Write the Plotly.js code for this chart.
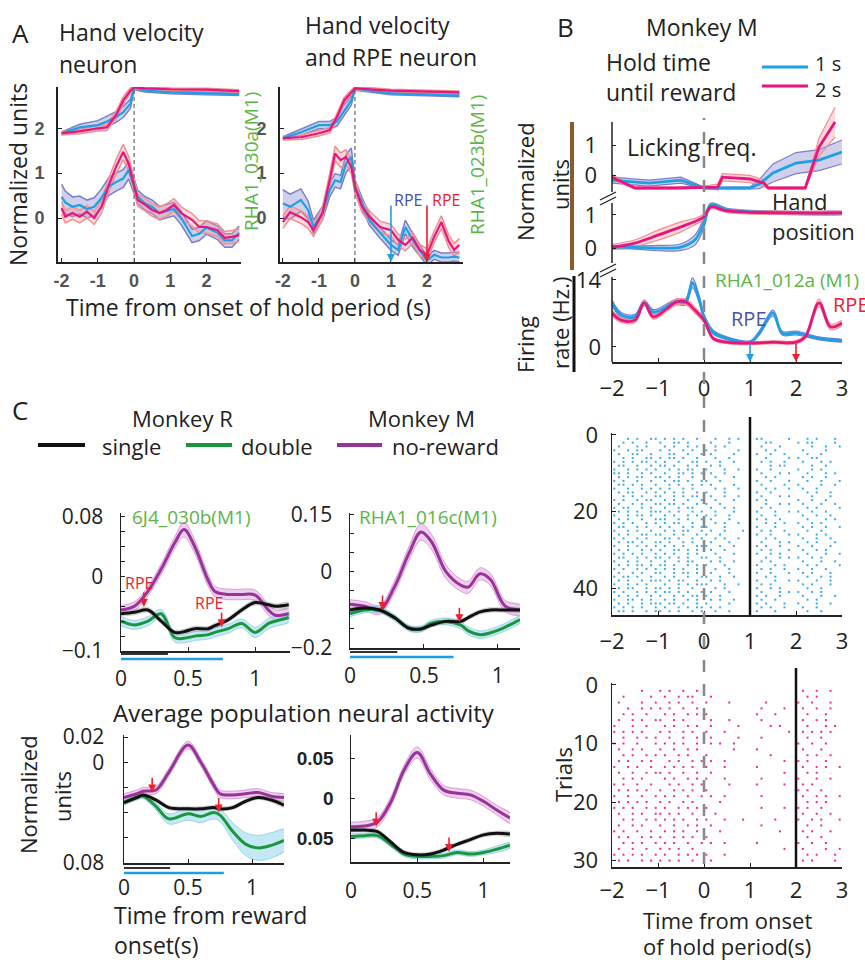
<!DOCTYPE html>
<html><head><meta charset="utf-8">
<script src="https://cdn.plot.ly/plotly-3.0.1.min.js"></script>
<style>html,body{margin:0;padding:0;background:#fff}#chart{width:865px;height:960px}</style>
</head><body><div id="chart"></div>
<script>
// ================= DATA =================
// Panel A left (hand velocity neuron)
const tA1hand=[-2,-1.5,-1,-0.75,-0.5,-0.3,-0.1,0,0.3,1,2,2.9];
const a1HandPink=[1.89,1.93,2.0,2.02,2.29,2.62,2.84,2.91,2.89,2.87,2.86,2.83];
const a1HandPinkSem=[0.04,0.05,0.06,0.07,0.08,0.08,0.06,0.04,0.03,0.03,0.03,0.03];
const a1HandBlue=[1.89,2.02,2.07,2.15,2.25,2.36,2.55,2.91,2.84,2.8,2.78,2.76];
const a1HandBlueSem=[0.03,0.07,0.1,0.12,0.12,0.12,0.1,0.05,0.03,0.03,0.03,0.03];
const tA1vel=[-2,-1.9,-1.7,-1.5,-1.3,-1.1,-0.9,-0.7,-0.5,-0.3,-0.15,0,0.1,0.3,0.5,0.7,0.9,1.1,1.3,1.6,1.8,2.0,2.3,2.5,2.7,2.9];
const a1VelPink=[0.22,0.03,0.11,0.03,0.14,0.0,0.25,0.73,1.14,1.47,1.21,0.7,0.4,0.3,0.18,0.11,0.18,0.29,0.11,-0.04,-0.2,-0.2,-0.27,-0.44,-0.42,-0.38];
const a1VelPinkSem=[0.14,0.14,0.14,0.14,0.14,0.14,0.14,0.15,0.16,0.17,0.16,0.15,0.14,0.14,0.14,0.14,0.14,0.14,0.14,0.14,0.14,0.14,0.14,0.14,0.14,0.14];
const a1VelBlue=[0.47,0.35,0.25,0.29,0.2,0.25,0.45,0.7,0.8,0.88,1.07,0.7,0.47,0.33,0.25,0.11,0.15,0.2,0.0,-0.4,-0.35,-0.21,-0.33,-0.5,-0.5,-0.33];
const a1VelBlueSem=[0.28,0.25,0.22,0.2,0.2,0.2,0.2,0.2,0.2,0.2,0.2,0.18,0.15,0.15,0.15,0.15,0.15,0.15,0.15,0.15,0.15,0.15,0.15,0.15,0.15,0.15];
// Panel A right (hand velocity and RPE neuron)
const tA2hand=[-2,-1.5,-1,-0.7,-0.5,-0.3,-0.1,0,1,2.9];
const a2HandPink=[1.78,1.8,1.89,1.96,2.25,2.62,2.8,2.89,2.84,2.8];
const a2HandPinkSem=[0.04,0.05,0.06,0.06,0.07,0.07,0.05,0.04,0.03,0.03];
const a2HandBlue=[1.78,1.91,2.07,2.07,2.15,2.4,2.62,2.89,2.78,2.73];
const a2HandBlueSem=[0.03,0.07,0.08,0.08,0.1,0.12,0.1,0.04,0.03,0.03];
const tA2vel=[-2,-1.8,-1.5,-1.3,-1.15,-0.9,-0.7,-0.55,-0.4,-0.25,-0.1,0,0.2,0.4,0.7,1.0,1.2,1.4,1.6,1.8,2.0,2.2,2.4,2.6,2.75,2.9];
const a2VelPink=[-0.09,0.13,0.02,-0.09,-0.27,0.11,0.84,1.44,1.29,1.36,1.14,0.7,0.25,0.03,-0.2,-0.27,-0.49,-0.6,-0.44,-0.71,-0.82,-0.42,-0.09,-0.51,-0.71,-0.6];
const a2VelPinkSem=[0.14,0.14,0.14,0.14,0.14,0.14,0.15,0.16,0.16,0.16,0.15,0.14,0.13,0.13,0.13,0.13,0.13,0.13,0.13,0.13,0.13,0.13,0.14,0.14,0.14,0.14];
const a2VelBlue=[0.33,0.25,0.4,0.18,-0.2,0.11,0.62,0.84,0.8,1.21,1.36,0.7,0.33,-0.04,-0.33,-0.6,-0.71,-0.2,-0.49,-0.71,-0.95,-0.82,-0.88,-0.88,-0.86,-0.88];
const a2VelBlueSem=[0.3,0.28,0.25,0.2,0.15,0.15,0.15,0.15,0.15,0.2,0.2,0.15,0.12,0.12,0.12,0.12,0.12,0.15,0.15,0.12,0.1,0.1,0.1,0.1,0.1,0.1];
// Panel B: licking, hand position, firing rate (1 s blue, 2 s pink)
const tLickBlue=[-2,-1.2,-0.5,0,1.0,1.2,1.5,2.0,2.5,3];
const lickBlue=[-0.17,-0.27,-0.17,-0.43,-0.43,-0.3,0.07,0.4,0.5,0.77];
const lickBlueSem=[0.1,0.1,0.1,0.03,0.03,0.15,0.3,0.35,0.35,0.4];
const tLickPink=[-2,-1.5,-0.6,0,0.3,0.4,1.0,1.3,1.4,2.2,2.5,2.85];
const lickPink=[-0.07,-0.43,-0.43,-0.4,-0.4,-0.07,-0.13,-0.27,-0.43,-0.43,0.93,1.77];
const lickPinkSem=[0.08,0.03,0.03,0.03,0.1,0.12,0.12,0.1,0.03,0.03,0.3,0.5];
const tHandB=[-2,-1.5,-1,-0.5,-0.2,0,0.15,0.5,2,3];
const handBlue=[0.03,0.02,0.0,0.03,0.24,0.76,1.3,1.15,1.06,1.06];
const handBlueSem=[0.05,0.05,0.08,0.1,0.15,0.15,0.06,0.05,0.05,0.05];
const handPink=[0.03,0.15,0.39,0.64,0.8,0.94,1.24,1.12,1.06,1.06];
const handPinkSem=[0.08,0.1,0.15,0.15,0.1,0.08,0.06,0.05,0.05,0.05];
const tFireBlue=[-2,-1.8,-1.5,-1.3,-1.1,-0.6,-0.4,-0.25,-0.1,0,0.2,0.5,1.0,1.2,1.5,1.7,2.0,2.5,3];
const fireBlue=[9.2,6.7,6.3,9.2,7.3,9.4,9.4,13.4,9.8,6.3,3.1,1.8,1.0,2.9,7.1,2.9,2.9,1.8,1.3];
const fireBlueSem=[0.6,0.5,0.5,0.6,0.5,0.6,0.6,1.0,0.7,0.5,0.4,0.3,0.3,0.4,0.6,0.4,0.4,0.3,0.3];
const tFirePink=[-2,-1.8,-1.5,-1.3,-1.1,-0.6,-0.4,-0.2,0,0.2,0.5,1.0,1.5,2.0,2.2,2.5,2.75,3];
const firePink=[7.1,5.6,5.6,9.2,6.3,9.4,9.4,7.7,5.6,1.8,1.0,0.8,1.0,1.0,2.1,9.2,4.2,5.0];
const firePinkSem=[0.6,0.5,0.5,0.6,0.5,0.6,0.6,0.6,0.5,0.3,0.3,0.3,0.3,0.3,0.4,0.8,0.6,0.6];
const holdTimes=[1,2];
// Raster spike trains, 0.1 s bins from -2 to 3 s ('|' = spike)
const rasterBlue=[
"...|.|..|| .|.|.|..|. ..|..|.|.. .||.....|. ..|.|...|.",
"..|.|..|.. |..||.|... .|...|.... ...||..... |.||....|.",
".|...|.|.. .|.|..|.|. ..|.|..... ..|...|... ...|..|..|",
"|..|.||... |.|..|.|.. |.|....|.. ...|.|.... .|....|...",
".|..||..|. ..||..|..| .|....|... .|..|..|.. ..|..|....",
"..|.|..||. |.||.|..|. ..|..|.... ...|....|. |..||.....",
"|.|.|.||.| .|..|..||. |..|..|... ..|.|..|.. .|...|.|..",
".||..|..|. ||.|..|.|. .|.|...... ....|.||.. ...|..|...",
"|..|.|.|.| ..|.|.||.. |...|..|.. .|..|..... |..|.|....",
"||.|..|.|. .|..||.|.| .|..|..... ..|...|.|. ..|...|.|.",
".|.|.||..| |.|.|..|.. ..|...|... ...|.|.... .|.|..|...",
"|.|..|..|. .|.||.|..| |..|...... .|..|...|. ..|..|...|",
".||.|.|..| ..|.|..|.| .|....|... ..|....|.. |....|..|.",
"|..|..|.|. |.|..|.|.. ..|.|..|.. ...|.|..|. .|..|.....",
".|.||..|.| .|.|.|..|. |...|..... .|..|..... ..|.|..|..",
"..|.|.|..| |..|.|.||. .|..|..|.. ..|...|.|. ...|...|..",
"|.|..|.||. .|.|..|..| ..|...|... .|.|...... |..|..|...",
".|..|.|..| |.||.|..|. |..|...... ...|..|.|. .|...|..|.",
"|.||..|.|. .|..|.||.. .|..|.|... ..|.|..... ..|.|....|",
".|.|.|..|| |.|.|..|.| ..|...|... .|...|..|. |..|..|...",
"|..|.||.|. .|.|..|.|. |.|..|.... ..|..|.... .|..|..|..",
".|.|..|..| ||..|.|..| .|...|.... .|.|..|... ..|...|.|.",
"|.|.|..|.| .|.||..|.. ..|.|..|.. ...|.|.|.. |..|.|....",
".||..|.|.. |.|..|.|.| |...|..... .|...|.... .|.|..|..|",
"|..|.|..|. .|.|.||..| .|..|...|. ..|.|..|.. ..|..|....",
".|.|..||.| |..|.|..|. |..|...... .|..|...|. |...|.|...",
"|.|..|.|.. .||.|..|.| ..|.|..|.. ...|.|.... .|..|..|..",
".|.||.|..| |.|..|.|.. .|...|.... ..|...|.|. ..|.|...|.",
"|..|.|.|.| .|.|.|..|| |..|..|... .|.|..|... |..|...|..",
".|.|..|.|. |..||.|.|. .|..|..... ..|.|...|. .|..|.|...",
"|.|.|.|..| .|.|..|.|. ..|...|... .|..|.|... ..|...|..|",
".||..|.|.| |.|.|.|..| |..|...... ...|..|.|. |..|.|....",
"|..|.|..|. .|..|.||.. .|.|..|... ..|.|..... .|...|..|.",
".|.|.||.|. ||.|..|.|. |...|..... .|...|.|.. ..|.|....|",
"|.|..|.|.| .|.|.|..|. ..|..|.... ..|.|..|.. |..|..|...",
".|..|.|..| |..|.||.|. .|...|.... .|..|...|. .|.|...|..",
"|.||.|..|. .|.|..|..| |..|..|... ...|.|.... ..|..|.|..",
".|.|..|.|| |.|.||..|. .|.|...... .|...|..|. |...|..|..",
"|..|.|.|.. .|..|.|.|| |...|..|.. ..|.|..... .|.|...|..",
".|.||..|.| |.|.|..|.. ..|.|..... .|..|.|... ..|..|....",
"|.|..|.|.| .||.|.|..| .|...|.... ..|...|.|. |..|.|....",
".|.|.|..|. |..|.|.||. |..|...... .|.|..|... .|...|..|.",
"|..||.|.|. .|.|..|.|. .|.|..|... ..|..|.... ..|.|.....",
".|.|..|.|| |.||.|..|. |....|.... .|.|...|.. |...|..|..",
"|.|.|.|..| .|..|.|.|| .|.|...... ..|.|..|.. .|..|.....",
".||.|..|.| |.|.|..|.| ..|..|.... .|...|.... ..|..|...."];
const rasterPink=[
"......|... |.|..|..|. .......... .......... .|..|..|..",
"..|.....|. .|..|.||.. .|........ .......... ..|.|.....",
".|....|..| ..|.|..|.. |....|.... ...|...... |..|...|..",
"...|..|.|. |.|..|..|. .......... ..|....|.. .|..|..|..",
"..|.|..|.. .|.|..|.|. |......... .|...|.... ..|...|...",
".|..|.|..| |..|.|.... .|...|.... ..|....... .|..|.|...",
"|...|..|.. .|.|..|.|. .|.....|.. ....|.|... ..|...|.|.",
"|.|.|.|... |.|..|.|.. |...|..... ........|. .|.|.|.|..",
"..|..|.|.| ..|..|..|. .|.....|.. ..|....... ..|..|....",
"|.|..|...| .|.|.|..|. .|.|..|... .......... |..|..|...",
".|..|.|... |..|..|.|. ......|... .|........ .|...|....",
"..|.|..|.| .|..|.|... |......... ....|..... ..|.|..|..",
".|.|..|.|. ..|.|..|.| .|..|..... .......|.. |.|...|...",
"|..|.|..|. .|.|.|.|.. |...|..... .|........ .|..|.|..|",
".|..|..|.| |.|..|..|. .|........ .......|.. ..|.|.....",
"..|.|.|... .|.|..|.|. |...|..... ..|....... |...|..|..",
"|.|..|..|. ..|.|..|.| .....|.... .|.....|.. .|.|......",
".|.|.|.|.. |..|.|.|.. |......... .......... |.|..|....",
"|..|..|..| .|.|..|..| .|..|..... ..|....... .|..|.|..|",
".|.|.|.|.. |.|..|.|.. ...|...... .......... ..|.|.|...",
"|.|.|..|.| .|..|.|.|. |......... ..|....|.. |.|..|....",
".|..|.|..| |.|.|..|.. ..|....... .......... .|..|..|..",
"..|.|..|.| .|.|.|..|. |...|...|. .....|.... |..|.|...|",
".|..|.|... |..|..|.|. .|........ ..|....... ..|..|....",
"|.|..|..|. .|.|.|..|. ...|...... ......|... .|.|...|..",
".|.|..|.|. |..|.|.|.. |......... .......... ..|..|....",
"..|.|.|..| .|.|..|..| .|..|..... .|........ |..|..|...",
".|..|..|.. |.|.|..|.. .......... .......|.. .|....|..|",
"|.|.|.|..| .|..|.|.|. |...|..... .......... ..|.|...|.",
".|.|..|.|. |.|.|..|.. .|........ .......... .|.|....|."];
// Panel C: time from reward onset
const tC1=[0,0.1,0.2,0.3,0.4,0.47,0.55,0.65,0.7,0.8,0.9,1.0,1.1,1.15,1.25];
const c1None=[-0.045,-0.04,-0.02,0.01,0.045,0.063,0.04,-0.005,-0.02,-0.024,-0.024,-0.025,-0.045,-0.052,-0.05];
const c1NoneSem=[0.006,0.006,0.006,0.007,0.008,0.01,0.009,0.008,0.007,0.007,0.007,0.007,0.007,0.007,0.007];
const c1Single=[-0.05,-0.048,-0.045,-0.06,-0.075,-0.074,-0.07,-0.07,-0.066,-0.058,-0.045,-0.035,-0.038,-0.04,-0.038];
const c1SingleSem=[0.004,0.004,0.004,0.004,0.004,0.004,0.004,0.004,0.004,0.004,0.004,0.004,0.004,0.004,0.004];
const c1Double=[-0.06,-0.065,-0.06,-0.05,-0.082,-0.083,-0.08,-0.078,-0.075,-0.07,-0.063,-0.075,-0.063,-0.06,-0.055];
const c1DoubleSem=[0.006,0.006,0.006,0.006,0.006,0.006,0.006,0.006,0.006,0.006,0.006,0.007,0.007,0.007,0.007];
const tC2=[0,0.1,0.2,0.3,0.4,0.48,0.55,0.65,0.75,0.8,0.88,0.95,1.05,1.15];
const c2None=[-0.085,-0.09,-0.1,-0.04,0.05,0.105,0.08,0.0,-0.035,-0.04,-0.005,-0.02,-0.09,-0.1];
const c2NoneSem=[0.012,0.012,0.012,0.015,0.018,0.022,0.02,0.018,0.016,0.016,0.016,0.016,0.015,0.015];
const c2Single=[-0.1,-0.095,-0.1,-0.12,-0.148,-0.15,-0.14,-0.13,-0.13,-0.12,-0.105,-0.1,-0.1,-0.1];
const c2SingleSem=[0.007,0.007,0.007,0.007,0.007,0.007,0.007,0.007,0.007,0.007,0.007,0.007,0.007,0.007];
const c2Double=[-0.11,-0.1,-0.1,-0.12,-0.148,-0.15,-0.135,-0.13,-0.14,-0.155,-0.165,-0.16,-0.145,-0.125];
const c2DoubleSem=[0.008,0.008,0.008,0.008,0.008,0.008,0.008,0.009,0.01,0.01,0.01,0.01,0.01,0.01];
const tC3=[0,0.1,0.15,0.25,0.35,0.5,0.6,0.7,0.75,0.85,0.95,1.05,1.15,1.25];
const c3None=[-0.028,-0.025,-0.023,-0.022,-0.008,0.0136,0.0,-0.018,-0.025,-0.026,-0.025,-0.024,-0.027,-0.028];
const c3NoneSem=[0.003,0.003,0.003,0.003,0.003,0.003,0.003,0.003,0.003,0.003,0.003,0.003,0.003,0.003];
const c3Single=[-0.032,-0.028,-0.026,-0.03,-0.036,-0.037,-0.037,-0.036,-0.037,-0.036,-0.031,-0.028,-0.03,-0.034];
const c3SingleSem=[0.002,0.002,0.002,0.002,0.002,0.002,0.002,0.002,0.002,0.002,0.002,0.002,0.002,0.002];
const c3Double=[-0.032,-0.028,-0.027,-0.035,-0.045,-0.041,-0.043,-0.04,-0.042,-0.055,-0.065,-0.068,-0.066,-0.062];
const c3DoubleSem=[0.002,0.002,0.002,0.003,0.004,0.005,0.005,0.005,0.005,0.007,0.009,0.01,0.01,0.009];
const tC4=[0,0.1,0.2,0.3,0.4,0.5,0.6,0.7,0.8,0.9,1.0,1.1,1.2];
const c4None=[-0.036,-0.035,-0.03,-0.005,0.035,0.057,0.03,0.01,0.006,0.004,-0.004,-0.015,-0.025];
const c4NoneSem=[0.006,0.006,0.006,0.006,0.006,0.007,0.007,0.006,0.006,0.006,0.006,0.006,0.007];
const c4Single=[-0.04,-0.04,-0.042,-0.055,-0.068,-0.071,-0.07,-0.065,-0.058,-0.052,-0.046,-0.044,-0.045];
const c4SingleSem=[0.003,0.003,0.003,0.003,0.003,0.003,0.003,0.003,0.003,0.003,0.003,0.003,0.003];
const c4Double=[-0.048,-0.047,-0.047,-0.058,-0.07,-0.073,-0.073,-0.072,-0.068,-0.07,-0.068,-0.064,-0.059];
const c4DoubleSem=[0.003,0.003,0.003,0.003,0.003,0.003,0.003,0.003,0.003,0.003,0.003,0.004,0.004];
const rpeC=[[0.17,-0.041,0.75,-0.068],[0.22,-0.1,0.74,-0.132],[0.22,-0.024,0.74,-0.04],[0.19,-0.036,0.74,-0.0675]];
const cBarSingle=[0.35,0.32,0.36];
const cBarDouble=[0.76,0.7,0.78];

// ================= DRAW =================
const W=865,H=960;
const PX=x=>x/W, PY=y=>1-y/H;
const FONT='Open Sans, sans-serif';
const BLUE='#1ea0e6', PINK='#e8157e', SLATE='#7b7fc8', SALMON='#f29090';
const PURPLE='#993399', GREEN='#1a9641', BLACK='#111111';
const traces=[];
function addBand(xs,m,s,xa,ya,fill,edge,ew,shape){
  const up=m.map((v,i)=>v+s[i]), lo=m.map((v,i)=>v-s[i]);
  const sh=shape||'linear';
  traces.push({type:'scatter',mode:'lines',x:xs.concat(xs.slice().reverse()),y:up.concat(lo.slice().reverse()),fill:'toself',fillcolor:fill,line:{width:0,shape:sh},xaxis:xa,yaxis:ya,hoverinfo:'skip'});
  if(edge){
    traces.push({type:'scatter',mode:'lines',x:xs,y:up,line:{color:edge,width:ew,shape:sh},xaxis:xa,yaxis:ya,hoverinfo:'skip'});
    traces.push({type:'scatter',mode:'lines',x:xs,y:lo,line:{color:edge,width:ew,shape:sh},xaxis:xa,yaxis:ya,hoverinfo:'skip'});
  }
}
function addLine(xs,m,xa,ya,color,w,shape){
  traces.push({type:'scatter',mode:'lines',x:xs,y:m,line:{color:color,width:w,shape:shape||'linear'},xaxis:xa,yaxis:ya,hoverinfo:'skip'});
}
// Panel A
[['x','y',tA1hand,a1HandBlue,a1HandBlueSem,a1HandPink,a1HandPinkSem],
 ['x','y',tA1vel,a1VelBlue,a1VelBlueSem,a1VelPink,a1VelPinkSem],
 ['x2','y2',tA2hand,a2HandBlue,a2HandBlueSem,a2HandPink,a2HandPinkSem],
 ['x2','y2',tA2vel,a2VelBlue,a2VelBlueSem,a2VelPink,a2VelPinkSem]].forEach(g=>{
  addBand(g[2],g[3],g[4],g[0],g[1],'rgba(120,120,200,0.35)',SLATE,1.5);
  addBand(g[2],g[5],g[6],g[0],g[1],'rgba(245,150,150,0.35)',SALMON,1.5);
  addLine(g[2],g[3],g[0],g[1],BLUE,2.2);
  addLine(g[2],g[5],g[0],g[1],PINK,2.2);
});
// Panel B curves
const bGroups=[['y3',tLickBlue,lickBlue,lickBlueSem,tLickPink,lickPink,lickPinkSem,'linear'],
 ['y4',tHandB,handBlue,handBlueSem,tHandB,handPink,handPinkSem,'spline'],
 ['y5',tFireBlue,fireBlue,fireBlueSem,tFirePink,firePink,firePinkSem,'spline']];
bGroups.forEach(g=>{
  addBand(g[1],g[2],g[3],'x3',g[0],'rgba(120,120,200,0.35)',SLATE,1.2,g[7]);
  addBand(g[4],g[5],g[6],'x3',g[0],'rgba(245,150,150,0.35)',SALMON,1.2,g[7]);
  addLine(g[1],g[2],'x3',g[0],BLUE,2.8,g[7]);
  addLine(g[4],g[5],'x3',g[0],PINK,2.8,g[7]);
});
// Rasters
function rasterTrace(rows,xa,ya,color){
  const xs=[],ys=[];
  rows.forEach((r,k)=>{
    const s=r.replace(/ /g,'');
    for(let i=0;i<s.length;i++){ if(s[i]==='|'){ xs.push(-2+0.1*i+0.05); ys.push(k+1); } }
  });
  traces.push({type:'scatter',mode:'markers',x:xs,y:ys,xaxis:xa,yaxis:ya,marker:{symbol:'square',size:2,color:color,line:{width:0}},hoverinfo:'skip'});
}
rasterTrace(rasterBlue,'x4','y6','#3aaaea');
rasterTrace(rasterPink,'x5','y7','#ec2a9c');
// Panel C
[['x6','y8',tC1,c1None,c1NoneSem,c1Single,c1SingleSem,c1Double,c1DoubleSem],
 ['x7','y9',tC2,c2None,c2NoneSem,c2Single,c2SingleSem,c2Double,c2DoubleSem],
 ['x8','y10',tC3,c3None,c3NoneSem,c3Single,c3SingleSem,c3Double,c3DoubleSem],
 ['x9','y11',tC4,c4None,c4NoneSem,c4Single,c4SingleSem,c4Double,c4DoubleSem]].forEach(g=>{
  addBand(g[2],g[3],g[4],g[0],g[1],'rgba(215,150,215,0.45)','rgba(205,130,205,0.7)',1,'spline');
  addBand(g[2],g[7],g[8],g[0],g[1],'rgba(150,215,235,0.55)','rgba(140,205,230,0.8)',1,'spline');
  addBand(g[2],g[5],g[6],g[0],g[1],'rgba(150,150,150,0.45)',null,0,'spline');
  addLine(g[2],g[3],g[0],g[1],PURPLE,3,'spline');
  addLine(g[2],g[7],g[0],g[1],GREEN,3,'spline');
  addLine(g[2],g[5],g[0],g[1],BLACK,3,'spline');
});

// ---------- axes ----------
function ax(domPx,isX,range,extra){
  const dom=isX?[PX(domPx[0]),PX(domPx[1])]:[PY(domPx[0]),PY(domPx[1])];
  return Object.assign({domain:dom,range:range,showgrid:false,zeroline:false,showline:true,linecolor:'#222',linewidth:1.5,
    ticks:'inside',ticklen:4,tickcolor:'#222',fixedrange:true,tickfont:{family:FONT,size:21,color:'#222'},ticklabelstandoff:6},extra||{});
}
const fA={family:'Liberation Sans, Arial, sans-serif',size:18,color:'#555',weight:'bold'};
const tB={family:FONT,size:22,color:'#222'};
const layout={width:W,height:H,margin:{l:0,r:0,t:0,b:0},paper_bgcolor:'#fff',plot_bgcolor:'rgba(0,0,0,0)',showlegend:false,
  font:{family:FONT,color:'#222'},
  xaxis:ax([58,241],true,[-2.1,2.95],{anchor:'y',tickvals:[-2,-1,0,1,2],ticktext:['-2','-1','0','1','2'],tickfont:fA,linewidth:2,ticklabelstandoff:1}),
  yaxis:ax([262,87],false,[-0.98,2.92],{anchor:'x',tickvals:[0,1,2],tickfont:fA,linewidth:2,ticklabelstandoff:8}),
  xaxis2:ax([280,463],true,[-2.08,3.0],{anchor:'y2',tickvals:[-2,-1,0,1,2],ticktext:['-2','-1','0','1','2'],tickfont:fA,linewidth:2,ticklabelstandoff:1}),
  yaxis2:ax([262,87],false,[-0.98,2.92],{anchor:'x2',tickvals:[0,1,2],tickfont:fA,linewidth:2,ticklabelstandoff:8}),
  xaxis3:ax([612,842],true,[-2,3],{anchor:'y5',tickvals:[-2,-1,0,1,2,3],tickfont:tB}),
  yaxis3:ax([194,97],false,[-0.63,2.6],{anchor:'x3',tickvals:[0,1],tickfont:tB,showline:false,ticklabelstandoff:14}),
  yaxis4:ax([262,200],false,[-0.42,1.45],{anchor:'x3',tickvals:[0,1],tickfont:tB,showline:false,ticklabelstandoff:14}),
  yaxis5:ax([362,277],false,[-3.13,14.6],{anchor:'x3',tickvals:[0,14],tickfont:tB,showline:false,ticklabelstandoff:10}),
  xaxis4:ax([612,842],true,[-2,3],{anchor:'y6',tickvals:[-2,-1,0,1,2,3],tickfont:tB}),
  yaxis6:ax([615,433],false,[47,-0.52],{anchor:'x4',tickvals:[0,20,40],tickfont:tB,ticklabelstandoff:8}),
  xaxis5:ax([612,842],true,[-2,3],{anchor:'y7',tickvals:[-2,-1,0,1,2,3],tickfont:tB,ticklabelstandoff:3}),
  yaxis7:ax([867,683],false,[31.1,-0.34],{anchor:'x5',tickvals:[0,10,20,30],tickfont:tB,ticklabelstandoff:8}),
  xaxis6:ax([121,290],true,[0,1.26],{anchor:'y8',tickvals:[0,0.5,1],ticktext:['0','0.5','1'],ticklabelstandoff:8}),
  yaxis8:ax([651,513],false,[-0.1,0.0853],{anchor:'x6',tickvals:[0.08,0.06,0.04,0.02,0,-0.02,-0.04,-0.06,-0.08,-0.1],ticktext:['0.08','','','','0','','','','','\u22120.1'],ticklabelstandoff:12}),
  xaxis7:ax([350,520],true,[0,1.15],{anchor:'y9',tickvals:[0,0.5,1],ticktext:['0','0.5','1'],ticklabelstandoff:8}),
  yaxis9:ax([648,513],false,[-0.2,0.155],{anchor:'x7',tickvals:[0.15,0.1,0.05,0,-0.05,-0.1,-0.15,-0.2],ticktext:['0.15','','','0','','','','\u22120.2'],ticklabelstandoff:12}),
  xaxis8:ax([124,284],true,[0,1.25],{anchor:'y10',tickvals:[0,0.5,1],ticktext:['0','0.5','1'],ticklabelstandoff:5}),
  yaxis10:ax([863,735],false,[-0.08,0.0216],{anchor:'x8',tickvals:[0.02,0,-0.02,-0.04,-0.06,-0.08],ticktext:['0.02','0','','','','0.08'],ticklabelstandoff:14}),
  xaxis9:ax([351,510],true,[0,1.2],{anchor:'y11',tickvals:[0,0.5,1],ticktext:['0','0.5','1'],ticklabelstandoff:9}),
  yaxis11:ax([862,735],false,[-0.08,0.079],{anchor:'x9',tickvals:[0.05,0,-0.05],ticktext:['0.05','0','0.05'],tickfont:{family:'Liberation Sans, Arial, sans-serif',size:19,color:'#222',weight:'bold'},ticklabelstandoff:12}),
  shapes:[],annotations:[]
};
const S=layout.shapes, A=layout.annotations;
function pline(x0,y0,x1,y1,color,w,dash){S.push({type:'line',xref:'paper',yref:'paper',x0:PX(x0),y0:PY(y0),x1:PX(x1),y1:PY(y1),line:{color:color,width:w,dash:dash||'solid'},layer:'above'});}
function txt(t,x,y,o){o=o||{};A.push({text:t,x:PX(x),y:PY(y),xref:'paper',yref:'paper',showarrow:false,xanchor:o.xa||'left',yanchor:'middle',textangle:o.ang||0,
  font:{family:FONT,size:o.size||23,color:o.color||'#222'}});}
function arrow(xa,ya,x,y,len,color){A.push({text:'',x:x,y:y,xref:xa,yref:ya,ax:0,ay:-len,axref:'pixel',ayref:'pixel',showarrow:true,arrowhead:2,arrowsize:1,arrowwidth:1.6,arrowcolor:color});}
// Dashed onset lines
S.push({type:'line',xref:'x',yref:'paper',x0:0,x1:0,y0:PY(262),y1:PY(88),line:{color:'#666',width:1.2,dash:'4px,3px'},layer:'above'});
S.push({type:'line',xref:'x2',yref:'paper',x0:0,x1:0,y0:PY(262),y1:PY(88),line:{color:'#666',width:1.2,dash:'4px,3px'},layer:'above'});
S.push({type:'line',xref:'x3',yref:'paper',x0:0,x1:0,y0:PY(864),y1:PY(118),line:{color:'#8a8a8a',width:2.6,dash:'12px,12px'},layer:'above'});
// Hold-time lines on rasters
S.push({type:'line',xref:'x4',yref:'paper',x0:holdTimes[0],x1:holdTimes[0],y0:PY(615),y1:PY(417),line:{color:'#111',width:2.5},layer:'above'});
S.push({type:'line',xref:'x5',yref:'paper',x0:holdTimes[1],x1:holdTimes[1],y0:PY(867),y1:PY(668),line:{color:'#111',width:2.5},layer:'above'});
// B broken left axis
pline(612,122,612,192,'#222',1.5); pline(612,203,612,263,'#222',1.5); pline(612,277,612,362,'#222',1.5);
pline(600,200,616,192,'#222',1.3); pline(600,205,616,197,'#222',1.3);
pline(600,272,616,264,'#222',1.3); pline(600,277,616,269,'#222',1.3);
pline(572,122,572,270,'#8b5a2b',4); pline(574,276,574,372,'#111',3);
// B legend
pline(762,67,808,67,BLUE,3); pline(762,86,808,86,PINK,3);
// C legend
pline(38,445,85,445,BLACK,4); pline(186,445,232,445,GREEN,4); pline(337,445,382,445,PURPLE,4);
// C duration bars
[['x6',654,659],['x7',652,657],['x8',868,873]].forEach((b,i)=>{
  S.push({type:'line',xref:b[0],yref:'paper',x0:0,x1:cBarSingle[i],y0:PY(b[1]),y1:PY(b[1]),line:{color:'#333',width:2}});
  S.push({type:'line',xref:b[0],yref:'paper',x0:0,x1:cBarDouble[i],y0:PY(b[2]),y1:PY(b[2]),line:{color:'#1ea0e6',width:2.5}});
});
// Arrows
arrow('x2','y2',holdTimes[0],-0.98,58,BLUE); arrow('x2','y2',holdTimes[1],-0.98,58,'#ee2030');
arrow('x3','y5',holdTimes[0],-3.13,20,BLUE); arrow('x3','y5',holdTimes[1],-3.13,20,'#ee2030');
[['x6','y8'],['x7','y9'],['x8','y10'],['x9','y11']].forEach((p,i)=>{
  arrow(p[0],p[1],rpeC[i][0],rpeC[i][1],16,'#ee2030');
  arrow(p[0],p[1],rpeC[i][2],rpeC[i][3],16,'#ee2030');
});
// Texts
const GR='#5cb546';
txt('A',10,33,{size:26}); txt('Hand velocity',57,32); txt('neuron',57,64);
txt('Hand velocity',303,25); txt('and RPE neuron',303,57);
txt('Normalized units',18,175,{ang:-90,xa:'center',size:23});
txt('RHA1_030a(M1)',251,162,{ang:-90,xa:'center',size:19,color:GR});
txt('RHA1_023b(M1)',477,165,{ang:-90,xa:'center',size:19,color:GR});
txt('RPE',392,200,{size:16,color:'#4b4fb0'}); txt('RPE',430,200,{size:16,color:'#ee2030'});
txt('Time from onset of hold period (s)',248,307,{xa:'center',size:23});
txt('B',555,27,{size:26}); txt('Monkey M',702,27,{xa:'center',size:23});
txt('Hold time',604,62); txt('until reward',604,92);
txt('1 s',813,63,{size:20}); txt('2 s',813,89,{size:20});
txt('Licking freq.',625,147,{size:23});
txt('Hand',770,201,{size:22}); txt('position',770,231,{size:22});
txt('RHA1_012a (M1)',713,280,{size:19,color:GR});
txt('RPE',729,318,{size:20,color:'#4b4fb0'}); txt('RPE',831,305,{size:20,color:'#ee2030'});
txt('Normalized',525,182,{ang:-90,xa:'center',size:22}); txt('units',560,185,{ang:-90,xa:'center',size:22});
txt('Firing',525,345,{ang:-90,xa:'center',size:22}); txt('rate (Hz.)',560,323,{ang:-90,xa:'center',size:22});
txt('Trials',563,775,{ang:-90,xa:'center',size:22});
txt('Time from onset',727,920,{xa:'center',size:22}); txt('of hold period(s)',727,946,{xa:'center',size:22});
txt('C',10,410,{size:26}); txt('Monkey R',182,418,{xa:'center',size:22}); txt('Monkey M',421,418,{xa:'center',size:22});
txt('single',100,446,{size:22}); txt('double',239,446,{size:22}); txt('no-reward',390,446,{size:22});
txt('6J4_030b(M1)',130,517,{size:19,color:GR}); txt('RHA1_016c(M1)',357,517,{size:19,color:GR});
txt('RPE',123,583,{size:16,color:'#ee2030'}); txt('RPE',193,603,{size:16,color:'#ee2030'});
txt('Average population neural activity',304,712,{xa:'center',size:24});
txt('Normalized',28,795,{ang:-90,xa:'center',size:22}); txt('units',62,797,{ang:-90,xa:'center',size:22});
txt('Time from reward',112,915,{size:23}); txt('onset(s)',112,945,{size:23});

Plotly.newPlot('chart',traces,layout,{staticPlot:true,displayModeBar:false});
</script></body></html>
